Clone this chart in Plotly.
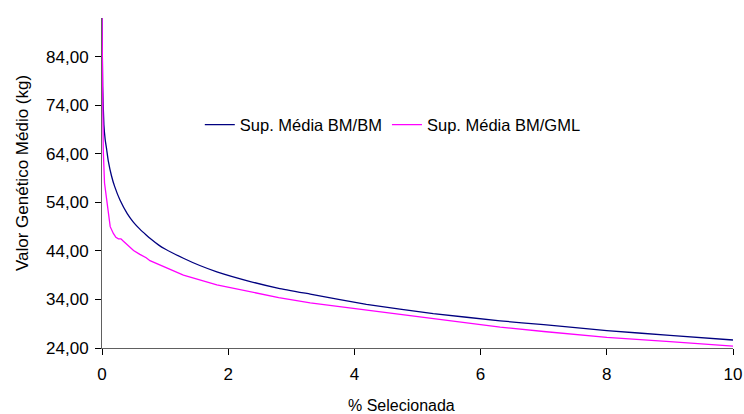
import plotly.graph_objects as go

# Data
x_bm = [0, 0.01, 0.03, 0.05, 0.075, 0.1, 0.15, 0.2, 0.285, 0.4, 0.5, 0.6, 0.7, 0.76,
        0.9, 1.0, 1.29, 1.55, 1.82, 2.35, 2.8, 3.3, 4.19, 5.25, 6.31, 7, 8, 9, 10]
y_bm = [92, 78, 70, 67, 64.8, 62.5, 59.5, 57.3, 54.5, 51.7, 49.9, 48.5, 47.3, 46.6,
        45.2, 44.4, 42.5, 41.0, 39.7, 37.7, 36.3, 35.1, 33.0, 31.1, 29.6, 28.8, 27.6, 26.6, 25.65]

x_gml = [0, 0.01, 0.02, 0.04, 0.074, 0.1, 0.13, 0.18, 0.22, 0.26, 0.3, 0.34, 0.39,
         0.45, 0.5, 0.6, 0.7, 0.76, 0.9, 1.08, 1.29, 1.82, 2.35, 2.8, 3.3, 4.19,
         5.25, 6.31, 7, 8, 9, 10]
y_gml = [92, 75, 64.8, 58, 54.5, 51, 49, 47.6, 46.8, 46.5, 46.5, 46.0, 45.4,
         44.6, 44.1, 43.3, 42.6, 42.0, 41.2, 40.2, 39.0, 37.0, 35.6, 34.4, 33.3, 31.8,
         30.0, 28.3, 27.4, 26.2, 25.3, 24.4]

y_ticks = [24, 34, 44, 54, 64, 74, 84]
y_tick_labels = ["24,00", "34,00", "44,00", "54,00", "64,00", "74,00", "84,00"]
x_ticks = [0, 2, 4, 6, 8, 10]

font = "Liberation Sans, Arial, sans-serif"

fig = go.Figure()
fig.add_trace(go.Scatter(x=x_bm, y=y_bm, mode="lines", name="Sup. Média BM/BM",
                         line=dict(color="#000080", width=1.3, shape="spline", smoothing=0.4)))
fig.add_trace(go.Scatter(x=x_gml, y=y_gml, mode="lines", name="Sup. Média BM/GML",
                         line=dict(color="#FF00FF", width=1.3)))

fig.update_layout(
    width=744, height=414,
    margin=dict(l=102, r=11, t=18, b=66, autoexpand=False),
    paper_bgcolor="white", plot_bgcolor="white",
    font=dict(family=font, size=16, color="black"),
    showlegend=True,
    legend=dict(orientation="h", x=0.155, y=0.676, xanchor="left", yanchor="middle",
                bgcolor="rgba(0,0,0,0)", font=dict(size=16.5, family=font),
                tracegroupgap=0),
    xaxis=dict(range=[0, 10], tickvals=x_ticks, ticks="outside", ticklen=6,
               tickcolor="black", showline=True, linecolor="#606060", linewidth=1,
               showgrid=False, zeroline=False, tickfont=dict(size=17),
               ticklabelstandoff=5, automargin=False),
    yaxis=dict(range=[24, 92], tickvals=y_ticks, ticktext=y_tick_labels,
               ticks="outside", ticklen=6, tickcolor="black", showline=True,
               linecolor="#606060", linewidth=1, showgrid=False, zeroline=False,
               tickfont=dict(size=17), ticklabelstandoff=3, automargin=False),
    annotations=[
        dict(text="% Selecionada", xref="paper", yref="paper", x=0.475, y=-0.173,
             xanchor="center", yanchor="middle", showarrow=False, font=dict(size=16)),
        dict(text="Valor Genético Médio (kg)", xref="paper", yref="paper",
             x=-0.1268, y=0.53, xanchor="center", yanchor="middle", textangle=-90,
             showarrow=False, font=dict(size=17)),
    ],
)

fig.write_html("out.html", config={"displayModeBar": False},
               post_script="document.body.style.margin='0px';document.body.style.overflow='hidden';")
